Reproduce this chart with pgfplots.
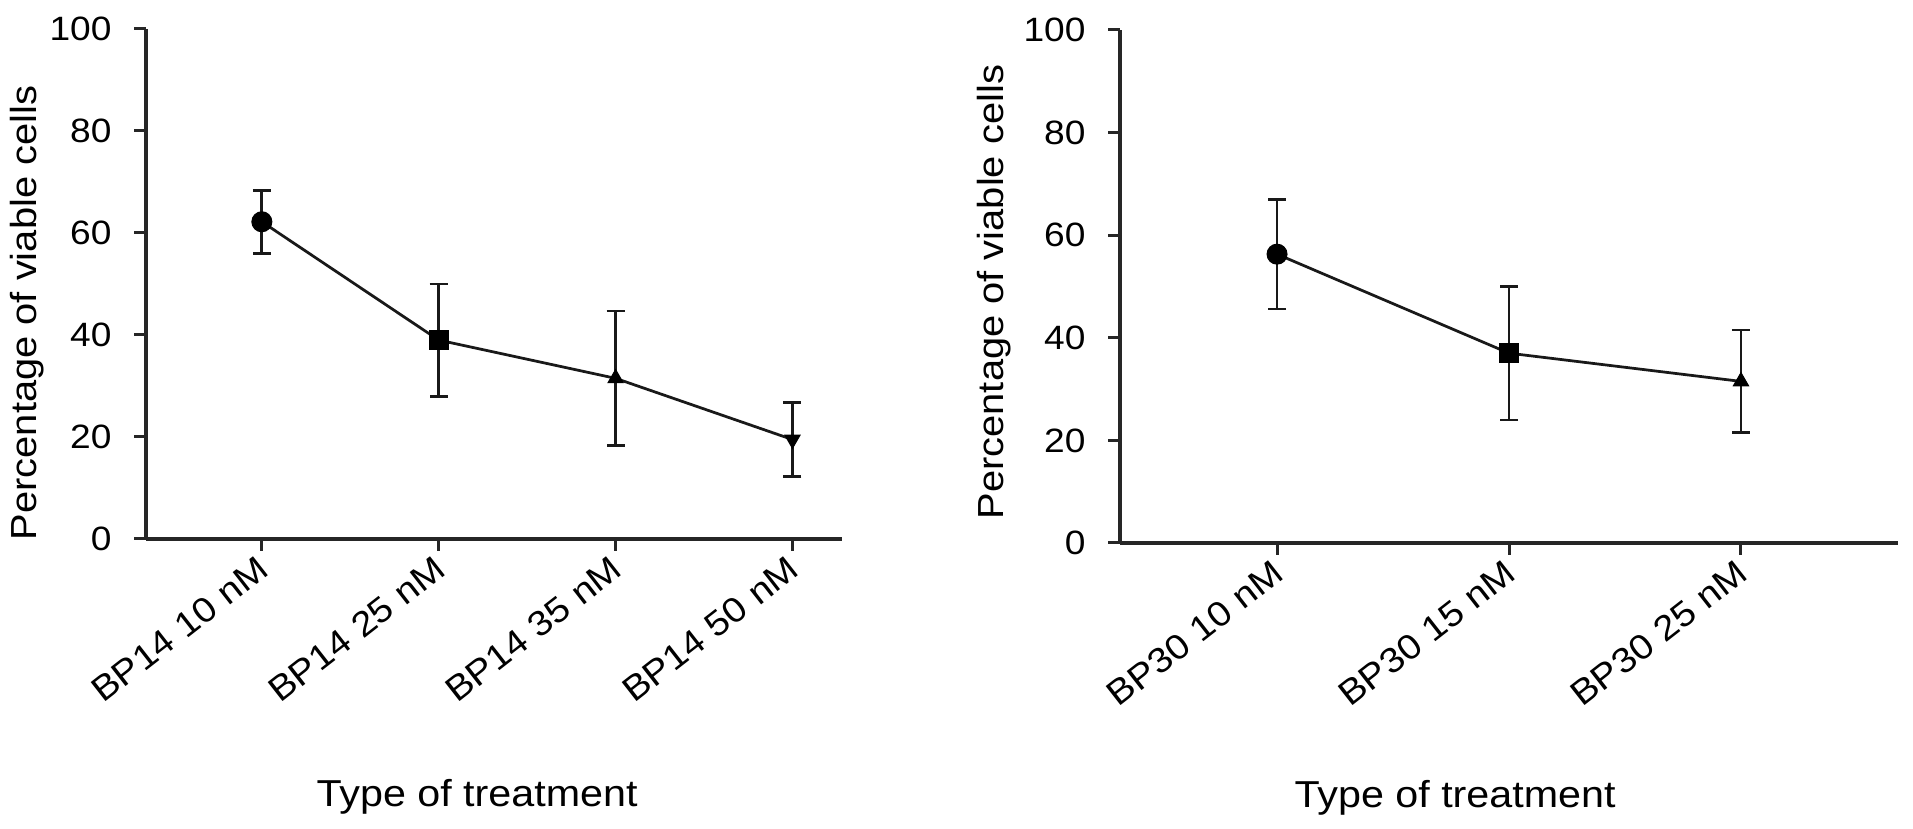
\documentclass[border=0pt]{standalone}
\usepackage{fontspec}
\setmainfont[FakeStretch=1.1]{Liberation Sans}
\usepackage{pgfplots}
\pgfplotsset{compat=1.18}
\pgfplotsset{
  mystyle/.style={
    scale only axis,
    anchor=south west,
    axis x line=bottom, axis y line=left,
    axis line style={-, line width=1.3pt, black!85},
    ymin=0, ymax=100, ytick={0,20,40,60,80,100},
    xtick=data,
    tick align=outside,
    major tick length=4.8pt,
    tick style={line width=1.2pt, black!85},
    /pgf/number format/assume math mode=true,
    yticklabel style={font=\fontsize{13.5}{16}\selectfont, anchor=east, inner sep=0pt, xshift=-8.8pt},
    xticklabel style={xshift=-2.5pt, yshift=-1pt, font=\fontsize{14}{16}\selectfont, rotate=38, anchor=north east, inner sep=0pt},
    xlabel style={font=\fontsize{15}{18}\selectfont, anchor=base},
    ylabel style={font=\fontsize{14.5}{17}\selectfont, anchor=center},
    clip=false,
  },
  ser/.style={black!90, line width=1.1pt, mark=none,
    error bars/.cd, y dir=both, y explicit,
    error mark=-,
    error bar style={line width=1.1pt, black!90},
    error mark options={rotate=90, line width=1.1pt, mark size=3.6pt, black!90}},
  pt/.style={black, fill=black, only marks, mark size=4pt},
}
\begin{document}
\begin{tikzpicture}
\useasboundingbox (0,0) rectangle (765.2pt,331.6pt);
\begin{axis}[mystyle, at={(58.4pt,116pt)}, width=278.4pt, height=204pt,
  xmin=0.345, xmax=4.28,
  xticklabels={BP14 10 nM, BP14 25 nM, BP14 35 nM, BP14 50 nM},
  xlabel={Type of treatment}, ylabel={Percentage of viable cells},
  xlabel style={at={(rel axis cs:0.4756,-0.525)}},
  ylabel style={at={(rel axis cs:-0.171,0.443)}}]
\addplot[ser] coordinates {
  (1,62.2) +- (0,6.2)
  (2,39.0) +- (0,11.0)
  (3,31.5) +- (0,13.2)
  (4,19.5) +- (0,7.3)
};
\addplot[pt, mark=*] coordinates {(1,62.2)};
\addplot[pt, mark=square*, mark size=3.8pt] coordinates {(2,39.0)};
\addplot[pt, mark=triangle*, mark size=3.5pt] coordinates {(3,31.5)};
\addplot[pt, mark=triangle*, mark size=3.5pt, mark options={rotate=180}] coordinates {(4,19.5)};
\end{axis}
\begin{axis}[mystyle, at={(448pt,114.4pt)}, width=311.2pt, height=205.2pt,
  xmin=0.323, xmax=3.677,
  xticklabels={BP30 10 nM, BP30 15 nM, BP30 25 nM},
  xlabel={Type of treatment}, ylabel={Percentage of viable cells},
  xlabel style={at={(rel axis cs:0.4306,-0.515)}},
  ylabel style={at={(rel axis cs:-0.162,0.489)}}]
\addplot[ser] coordinates {
  (1,56.3) +- (0,10.7)
  (2,37.0) +- (0,13.0)
  (3,31.5) +- (0,10.0)
};
\addplot[pt, mark=*] coordinates {(1,56.3)};
\addplot[pt, mark=square*, mark size=3.8pt] coordinates {(2,37.0)};
\addplot[pt, mark=triangle*, mark size=3.5pt] coordinates {(3,31.5)};
\end{axis}
\end{tikzpicture}
\end{document}
